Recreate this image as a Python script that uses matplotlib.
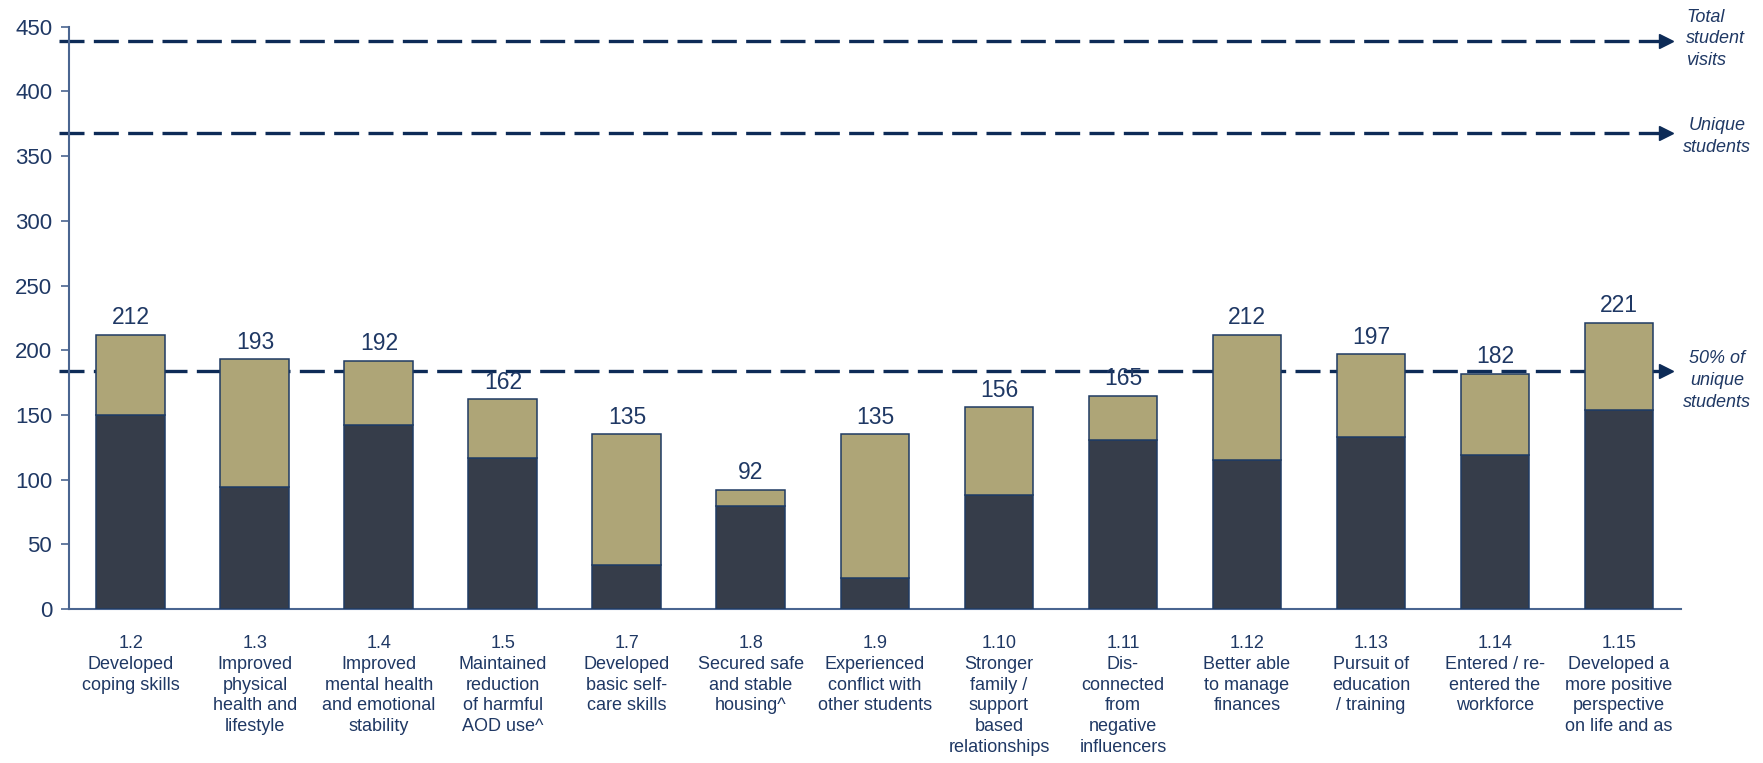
import matplotlib
matplotlib.use("Agg")
import matplotlib.pyplot as plt
import numpy as np

# Outcome categories (x axis)
codes = ["1.2", "1.3", "1.4", "1.5", "1.7", "1.8", "1.9",
         "1.10", "1.11", "1.12", "1.13", "1.14", "1.15"]
descriptions = [
    "Developed\ncoping skills",
    "Improved\nphysical\nhealth and\nlifestyle",
    "Improved\nmental health\nand emotional\nstability",
    "Maintained\nreduction\nof harmful\nAOD use^",
    "Developed\nbasic self-\ncare skills",
    "Secured safe\nand stable\nhousing^",
    "Experienced\nconflict with\nother students",
    "Stronger\nfamily /\nsupport\nbased\nrelationships",
    "Dis-\nconnected\nfrom\nnegative\ninfluencers",
    "Better able\nto manage\nfinances",
    "Pursuit of\neducation\n/ training",
    "Entered / re-\nentered the\nworkforce",
    "Developed a\nmore positive\nperspective\non life and as",
]

# Stacked counts: lower (dark) segment and labelled totals
lower = [150, 94, 142, 117, 34, 80, 24, 88, 131, 115, 133, 119, 154]
totals = [212, 193, 192, 162, 135, 92, 135, 156, 165, 212, 197, 182, 221]

# Reference lines
ref_values = [439, 368, 184]
ref_labels = ["Total\nstudent\nvisits", "Unique\nstudents", "50% of\nunique\nstudents"]
ref_align = ["left", "center", "center"]
ref_shift = [1.5, -3, -7.5]

DARK = "#363d4a"
TAN = "#aea577"
EDGE = "#1f3b63"
NAVY = "#0d2b57"
TEXT = "#1f3864"
AXIS = "#4a6590"
SANS = ["Liberation Sans", "DejaVu Sans"]

upper = [t - l for t, l in zip(totals, lower)]
x = np.arange(len(codes))

fig = plt.figure(figsize=(17.63, 7.63), dpi=100)
ax = fig.add_axes([0.0391, 0.2018, 0.9144, 0.7632])

ax.bar(x, lower, width=0.556, color=DARK, edgecolor=EDGE, linewidth=1.1, zorder=3)
ax.bar(x, upper, bottom=lower, width=0.556, color=TAN, edgecolor=EDGE,
       linewidth=1.1, zorder=3)

for xi, t in zip(x, totals):
    ax.annotate(str(t), (xi, t), xytext=(0, 4), textcoords="offset points",
                ha="center", va="bottom", fontsize=16.5, color=TEXT,
                family=SANS, zorder=5)

# Dashed reference lines ending in an arrow head, with labels on the right
for val, lab, al, dy in zip(ref_values, ref_labels, ref_align, ref_shift):
    ax.plot([-0.58, 12.36], [val, val], color=NAVY, lw=2.4,
            linestyle=(0, (7.5, 2.8)), clip_on=False, zorder=2)
    ax.plot([12.38], [val], marker=">", markersize=10, color=NAVY,
            clip_on=False, zorder=2)
    tx = 12.54 if al == "left" else 12.79
    ax.text(tx, val + dy, lab, ha=al, va="center", fontsize=13, style="italic",
            color=TEXT, linespacing=1.36, family=SANS)

ax.set_xlim(-0.5, 12.5)
ax.set_ylim(0, 450)
ax.set_yticks(np.arange(0, 451, 50))

ax.set_xticks(x)
ax.set_xticklabels([c + "\n" + d for c, d in zip(codes, descriptions)],
                   fontsize=13, color=TEXT, linespacing=1.28, family=SANS)
ax.tick_params(axis="x", length=0, pad=19)
ax.tick_params(axis="y", length=6, width=1.2, color=AXIS, pad=6,
               labelsize=16, labelcolor=TEXT)
for lbl in ax.get_yticklabels():
    lbl.set_family(SANS)

for side in ("top", "right"):
    ax.spines[side].set_visible(False)
for side in ("left", "bottom"):
    ax.spines[side].set_color(AXIS)
    ax.spines[side].set_linewidth(1.5)

fig.savefig("out.png", dpi=100)
